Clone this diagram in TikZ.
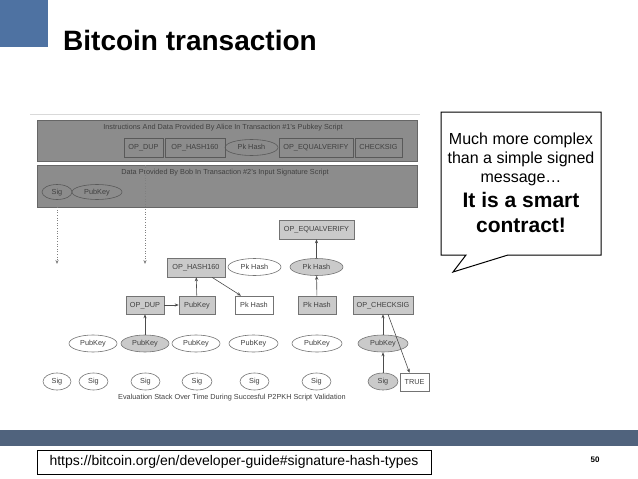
\documentclass[tikz,border=0pt]{standalone}
\usepackage{fontspec}
\setmainfont{Liberation Sans}
\usepackage{xcolor}
\usepackage{tikz}
\usetikzlibrary{arrows.meta,positioning,shapes.geometric}

\definecolor{slideblue}{RGB}{78,114,162}
\definecolor{bandblue}{RGB}{80,99,125}
\definecolor{bandgray}{RGB}{140,140,140}
\definecolor{stackgray}{RGB}{202,202,202}

\begin{document}
\begin{tikzpicture}[x=1pt,y=-1pt,>={Stealth[length=4pt,width=3.2pt]},
  lbl/.style={font=\fontsize{7.3}{8.5}\selectfont,text=black!75,inner sep=0pt,text height=5.3pt,text depth=1.3pt},
  opbox/.style={lbl,draw=black!55,fill=stackgray,line width=0.6pt,minimum height=18pt},
  plainbox/.style={opbox,fill=white},
  oval/.style={lbl,ellipse,draw=black!55,fill=white,line width=0.6pt,minimum height=17pt},
  grayoval/.style={oval,fill=stackgray},
  bandop/.style={lbl,draw=black!65,line width=0.6pt,minimum height=19pt},
  bandoval/.style={bandop,ellipse,minimum height=16pt},
  link/.style={->,black!70,line width=0.6pt}]
\useasboundingbox (0,0) rectangle (638,479);
\fill[slideblue] (0,0) rectangle (48,47);
\node[anchor=base west,inner sep=0pt,font=\fontsize{28}{30}\selectfont\bfseries] (title) at (63,50) {Bitcoin transaction};
\draw[black!15] (30,114) -- (420,114);
\node[draw=black!60,fill=bandgray,minimum width=380pt,minimum height=41pt,inner sep=0pt] (alice) at (227,140.5) {};
\node[lbl] (alicetext) at (223,127) {Instructions And Data Provided By Alice In Transaction \#1's Pubkey Script};
\node[bandop,minimum width=39pt] (adup) at (143.5,147.5) {OP\_DUP};
\node[bandop,minimum width=60pt] (ahash) at (195,147.5) {OP\_HASH160};
\node[bandoval,minimum width=53pt] (apk) at (251.5,147.5) {Pk Hash};
\node[bandop,minimum width=74pt] (aeqv) at (316,147.5) {OP\_EQUALVERIFY};
\node[bandop,minimum width=47pt] (achk) at (378.5,147.5) {CHECKSIG};
\node[draw=black!60,fill=bandgray,minimum width=380pt,minimum height=42pt,inner sep=0pt] (bob) at (227,186) {};
\node[lbl] (bobtext) at (225,172) {Data Provided By Bob In Transaction \#2's Input Signature Script};
\node[bandoval,minimum width=30pt,minimum height=15pt] (bsig) at (57,192) {Sig};
\node[bandoval,minimum width=50pt,minimum height=15pt] (bpub) at (97,192) {PubKey};
\coordinate (drop1) at (57,264);
\coordinate (drop2) at (145,264);
\draw[link,black!50,dotted] (bob.south -| drop1) -- (drop1);
\draw[link,black!50,dotted] (bob.north -| drop2) -- (drop2);
\node[opbox,minimum width=75pt,minimum height=19pt] (eqv) at (316.5,229.5) {OP\_EQUALVERIFY};
\node[opbox,minimum width=58pt,minimum height=19pt] (h160) at (196,267.5) {OP\_HASH160};
\node[oval,minimum width=53pt] (pkw) at (254.5,267) {Pk Hash};
\node[grayoval,minimum width=53pt] (pkg) at (316.5,267) {Pk Hash};
\node[opbox,minimum width=38pt] (dup) at (145,305) {OP\_DUP};
\node[opbox,minimum width=36pt] (pubbox) at (197,305) {PubKey};
\node[plainbox,minimum width=38pt] (pkbw) at (254,305) {Pk Hash};
\node[opbox,minimum width=38pt] (pkbg) at (317,305) {Pk Hash};
\node[opbox,minimum width=60pt] (chk) at (383,305) {OP\_CHECKSIG};
\node[oval,minimum width=48pt] (pub1) at (93,343.5) {PubKey};
\node[grayoval,minimum width=48pt] (pub2) at (145,343.5) {PubKey};
\node[oval,minimum width=48pt] (pub3) at (196,343.5) {PubKey};
\node[oval,minimum width=49pt] (pub4) at (253.5,343.5) {PubKey};
\node[oval,minimum width=50pt] (pub5) at (317,343.5) {PubKey};
\node[grayoval,minimum width=50pt] (pub6) at (383,343.5) {PubKey};
\node[oval,minimum width=28pt] (sig1) at (57,381.5) {Sig};
\node[oval,minimum width=29pt] (sig2) at (93.5,381.5) {Sig};
\node[oval,minimum width=29pt] (sig3) at (145.5,381.5) {Sig};
\node[oval,minimum width=30pt] (sig4) at (197,381.5) {Sig};
\node[oval,minimum width=29pt] (sig5) at (254.5,381.5) {Sig};
\node[oval,minimum width=29pt] (sig6) at (316.5,381.5) {Sig};
\node[grayoval,minimum width=30pt] (sig7) at (383,381.5) {Sig};
\node[plainbox,minimum width=29pt] (true) at (414.5,382) {TRUE};
\node[lbl] (caption) at (232,397.5) {Evaluation Stack Over Time During Succesful P2PKH Script Validation};
\draw[link] (pub2) -- (dup);
\draw[link] (dup) -- (pubbox);
\draw[link] (pubbox) -- (h160);
\draw[link] ([xshift=16pt]h160.south) -- ([xshift=-13pt]pkbw.north);
\draw[link] (pkbg) -- (pkg);
\draw[link] (pkg) -- (eqv);
\draw[link] (sig7) -- (pub6);
\draw[link] (pub6) -- (chk);
\draw[link] ([xshift=5pt]chk.south) -- ([xshift=-5pt]true.north);
\draw[line width=1pt,fill=white] (441,112) -- (601,112) -- (601,255) -- (508,255) -- (453,272) -- (466,255) -- (441,255) -- cycle;
\node[align=center,inner sep=0pt,font=\fontsize{16}{19}\selectfont] (note) at (521,159) {Much more complex\\than a simple signed\\message…};
\node[align=center,inner sep=0pt,font=\fontsize{21}{25}\selectfont\bfseries] (smart) at (521,212.5) {It is a smart\\contract!};
\fill[bandblue] (0,430) rectangle (638,446);
\node[draw,line width=0.8pt,minimum width=394pt,minimum height=24pt,inner sep=0pt,font=\fontsize{14}{16}\selectfont] (url) at (234,462) {https://bitcoin.org/en/developer-guide\#signature-hash-types};
\node[inner sep=0pt,font=\fontsize{8}{9}\selectfont\bfseries] (page) at (595,460) {50};
\end{tikzpicture}
\end{document}
